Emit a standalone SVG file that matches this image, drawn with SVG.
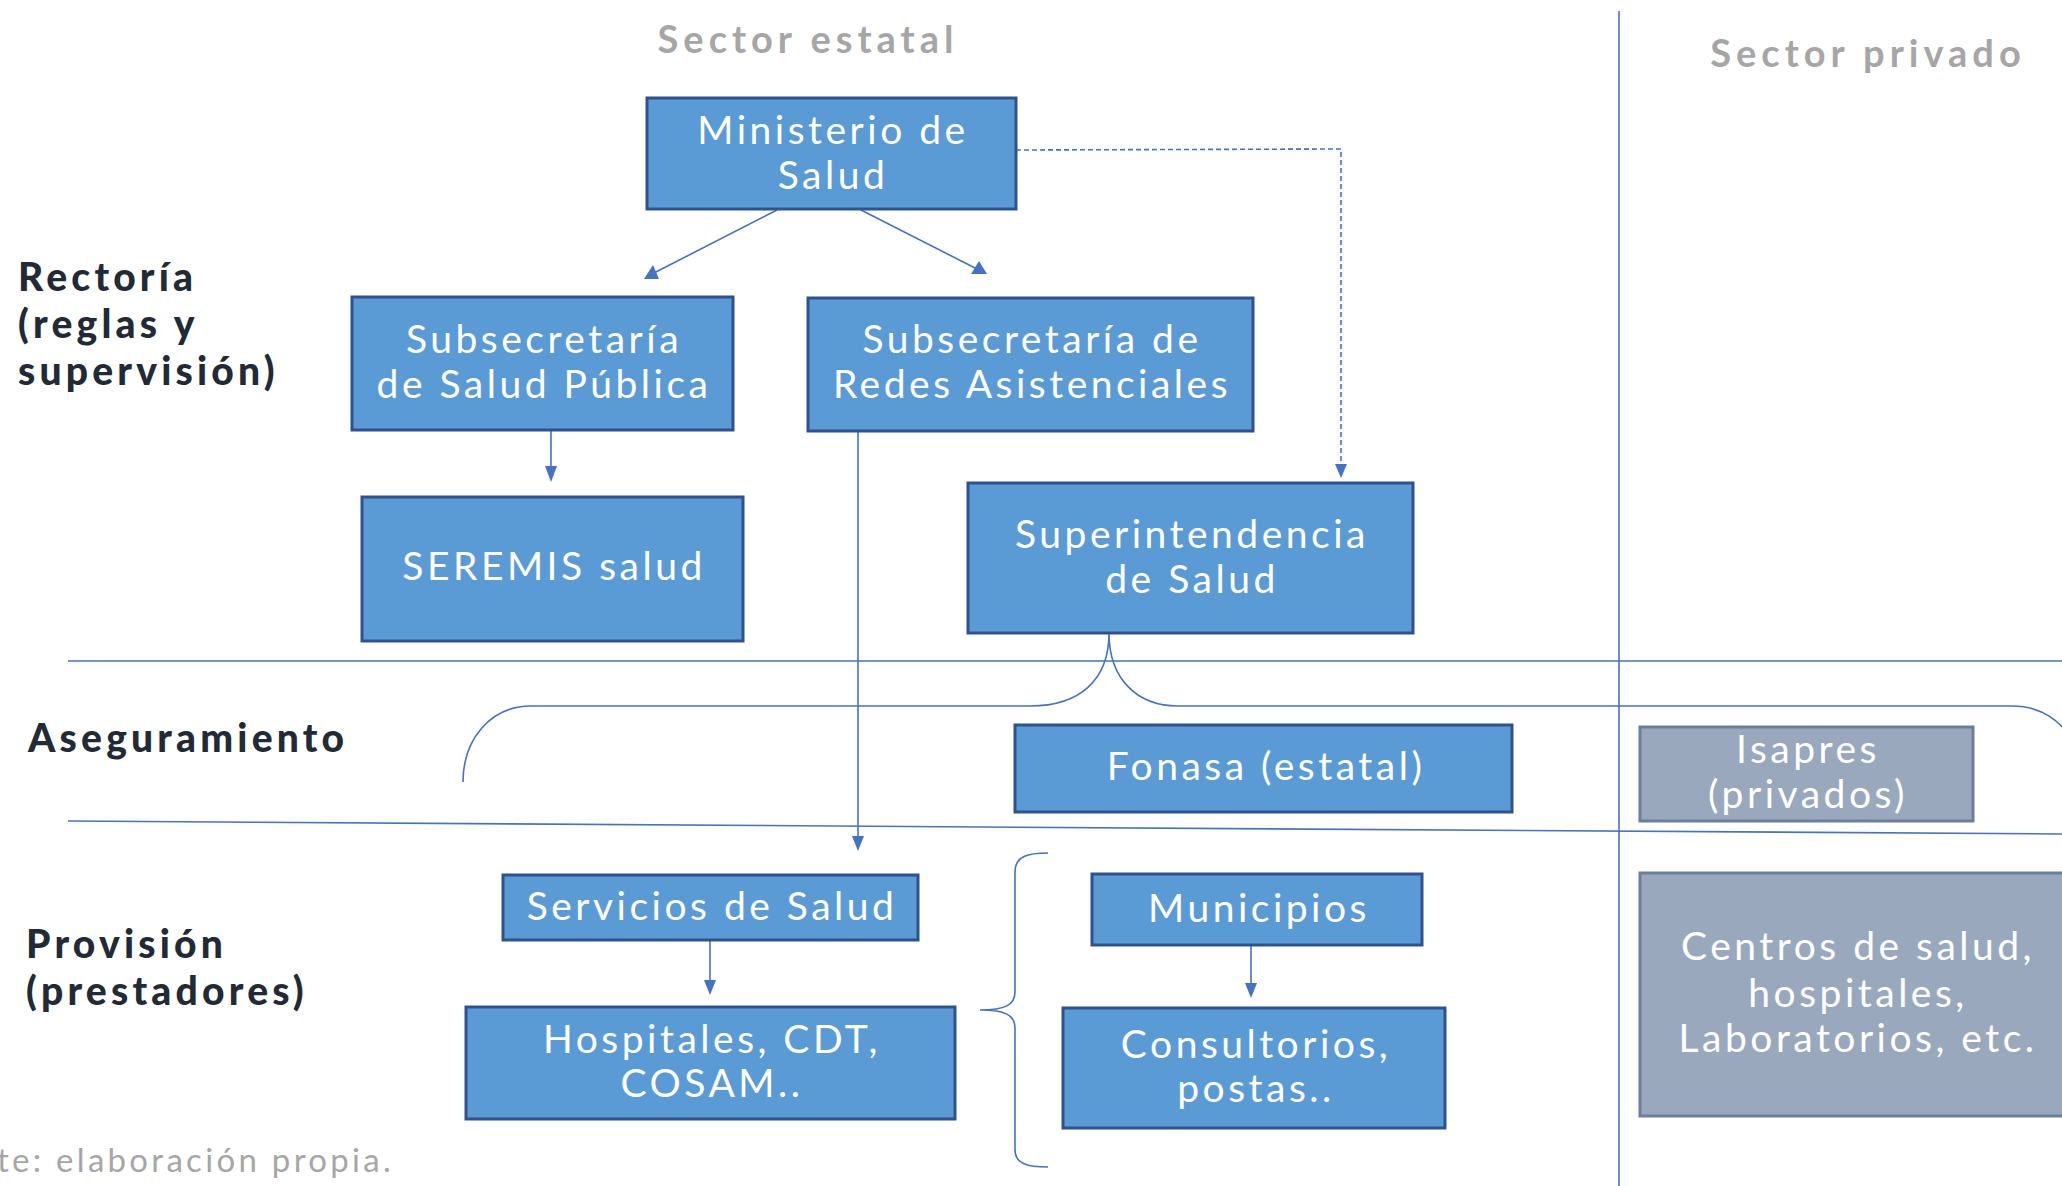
<svg xmlns="http://www.w3.org/2000/svg" width="2062" height="1186" viewBox="0 0 2062 1186">
<style>
.box{fill:#5B9BD5;stroke:#2F528F;stroke-width:3}
.gbox{fill:#9AA8BE;stroke:#6B7E9C;stroke-width:3}
.bt{font-family:Lato,"Open Sans",sans-serif;font-size:39px;fill:#FFFFFF;text-anchor:middle;letter-spacing:3.5px}
.lab{font-family:Lato,"Open Sans",sans-serif;font-size:39px;font-weight:900;fill:#222A35;letter-spacing:4.2px}
.hdr{font-family:Lato,"Open Sans",sans-serif;font-size:38px;font-weight:bold;fill:#A6A6A6;text-anchor:middle;letter-spacing:5px}
.ln{fill:none;stroke:#4472C4;stroke-width:1.6}
.ah{fill:#4472C4}
</style>
<rect width="2062" height="1186" fill="#FFFFFF"/>
<g id="labels">
<text class="hdr" x="808" y="53">Sector estatal</text>
<text class="hdr" x="1868" y="67">Sector privado</text>
<text class="lab" x="18" y="291">Rectoría</text>
<text class="lab" x="18" y="338">(reglas y</text>
<text class="lab" x="18" y="385">supervisión)</text>
<text class="lab" x="28" y="752">Aseguramiento</text>
<text class="lab" x="26" y="958">Provisión</text>
<text class="lab" x="26" y="1005">(prestadores)</text>
<text x="-3" y="1172" style="font-family:Lato,'Open Sans',sans-serif;font-size:33px;fill:#A6A6A6;letter-spacing:3.3px">te: elaboración propia.</text>
</g>
<g id="connectors">
<line class="ln" x1="1619" y1="11" x2="1619" y2="1186"/>
<line class="ln" x1="68" y1="661" x2="2062" y2="661" stroke-width="2"/>
<line class="ln" x1="68" y1="821" x2="2062" y2="834" stroke-width="2"/>
<path class="ln" d="M463,782 C463,740 490,706 531,706 L1030,706 C1080,706 1109,680 1109,633 C1109,680 1138,706 1178,706 L2012,706 C2040,706 2062,720 2075,745"/>
<path class="ln" d="M1048,853 C1028,853 1015,856 1015,872 L1015,992 C1015,1005 1005,1010 980,1010 C1005,1010 1015,1015 1015,1028 L1015,1150 C1015,1164 1028,1167 1048,1167"/>
<line class="ln" x1="777" y1="210" x2="652" y2="274"/>
<polygon class="ah" points="644,279 659,279 653,265"/>
<line class="ln" x1="861" y1="210" x2="979" y2="270"/>
<polygon class="ah" points="971,274 987,274 979,261"/>
<path class="ln" d="M1016,150 L1341,149 L1341,466" stroke-dasharray="5,3"/>
<polygon class="ah" points="1335,464 1347,464 1341,478"/>
<line class="ln" x1="551" y1="431" x2="551" y2="468"/>
<polygon class="ah" points="545,466 557,466 551,482"/>
<line class="ln" x1="858" y1="432" x2="858" y2="838"/>
<polygon class="ah" points="852,836 864,836 858,851"/>
<line class="ln" x1="710" y1="940" x2="710" y2="982"/>
<polygon class="ah" points="704,980 716,980 710,995"/>
<line class="ln" x1="1251" y1="945" x2="1251" y2="985"/>
<polygon class="ah" points="1245,983 1257,983 1251,998"/>
</g>
<g id="n-ministerio"><rect class="box" x="647" y="98" width="369" height="111"/><text class="bt" x="833" y="144">Ministerio de</text><text class="bt" x="833" y="189">Salud</text></g>
<g id="n-subsp"><rect class="box" x="352" y="297" width="381" height="133"/><text class="bt" x="544" y="353">Subsecretaría</text><text class="bt" x="544" y="398">de Salud Pública</text></g>
<g id="n-subra"><rect class="box" x="808" y="298" width="445" height="133"/><text class="bt" x="1032" y="353">Subsecretaría de</text><text class="bt" x="1032" y="398">Redes Asistenciales</text></g>
<g id="n-seremis"><rect class="box" x="362" y="497" width="381" height="144"/><text class="bt" x="554" y="580">SEREMIS salud</text></g>
<g id="n-super"><rect class="box" x="968" y="483" width="445" height="150"/><text class="bt" x="1192" y="548">Superintendencia</text><text class="bt" x="1192" y="593">de Salud</text></g>
<g id="n-fonasa"><rect class="box" x="1015" y="725" width="497" height="87"/><text class="bt" x="1266" y="780">Fonasa (estatal)</text></g>
<g id="n-isapres"><rect class="gbox" x="1640" y="727" width="333" height="94"/><text class="bt" x="1808" y="763">Isapres</text><text class="bt" x="1808" y="808">(privados)</text></g>
<g id="n-servicios"><rect class="box" x="503" y="875" width="415" height="65"/><text class="bt" x="712" y="920">Servicios de Salud</text></g>
<g id="n-hospitales"><rect class="box" x="466" y="1007" width="489" height="112"/><text class="bt" x="712" y="1053">Hospitales, CDT,</text><text class="bt" x="712" y="1097">COSAM..</text></g>
<g id="n-municipios"><rect class="box" x="1092" y="874" width="330" height="71"/><text class="bt" x="1259" y="922">Municipios</text></g>
<g id="n-consultorios"><rect class="box" x="1063" y="1008" width="382" height="120"/><text class="bt" x="1256" y="1058">Consultorios,</text><text class="bt" x="1256" y="1102">postas..</text></g>
<g id="n-centros"><rect class="gbox" x="1640" y="873" width="440" height="243"/><text class="bt" x="1858" y="960">Centros de salud,</text><text class="bt" x="1858" y="1007">hospitales,</text><text class="bt" x="1858" y="1052">Laboratorios, etc.</text></g>
</svg>
